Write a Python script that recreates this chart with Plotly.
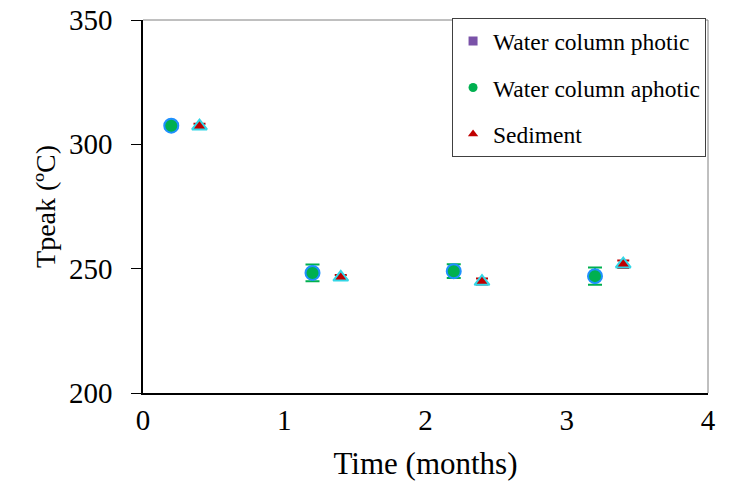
import plotly.graph_objects as go

# Sampling times (months) and Tpeak values (°C)
aphotic_time = [0.2, 1.2, 2.2, 3.2]
aphotic_tpeak = [307.5, 248.3, 249.0, 247.0]
aphotic_err = [1.0, 3.4, 2.8, 3.5]

sediment_time = [0.4, 1.4, 2.4, 3.4]
sediment_tpeak = [307.3, 246.5, 244.8, 251.8]
sediment_err = [1.0, 1.0, 1.2, 1.5]

legend_names = ["Water column photic", "Water column aphotic", "Sediment"]
legend_colors = ["#7a52a8", "#00b050", "#c00000"]
legend_symbols = ["square", "circle", "triangle-up"]

FONT = "Liberation Serif"

fig = go.Figure()

fig.add_trace(go.Scatter(
    x=aphotic_time, y=aphotic_tpeak, mode="markers", showlegend=False,
    marker=dict(symbol="circle", size=14, color="#00b050",
                line=dict(color="#1e90ff", width=2)),
    error_y=dict(type="data", array=aphotic_err, color="#00b050",
                 thickness=2, width=7),
))

fig.add_trace(go.Scatter(
    x=sediment_time, y=sediment_tpeak, mode="markers", showlegend=False,
    marker=dict(symbol="triangle-up", size=13, color="#c00000",
                line=dict(color="#33d6e6", width=2)),
    error_y=dict(type="data", array=sediment_err, color="#c00000",
                 thickness=2, width=6),
))

# Legend entries
for name, color, sym in zip(legend_names, legend_colors, legend_symbols):
    fig.add_trace(go.Scatter(
        x=[None], y=[None], mode="markers", name=name, legendgroup=name,
        marker=dict(symbol=sym, size=9, color=color),
    ))

fig.update_layout(
    width=734, height=491,
    margin=dict(l=143, r=26, t=20, b=98, autoexpand=False),
    paper_bgcolor="white", plot_bgcolor="white",
    font=dict(family=FONT, color="black"),
    legend=dict(
        x=0.547, y=1.005, xanchor="left", yanchor="top",
        bordercolor="#404040", borderwidth=1,
        font=dict(family=FONT, size=23.5, color="black"),
        tracegroupgap=13, itemwidth=30,
    ),
    xaxis=dict(
        range=[0, 4], dtick=1, ticks="", showgrid=False, zeroline=False,
        showline=True, linecolor="black", linewidth=1.5,
        tickfont=dict(size=29), title=dict(text="Time (months)",
                                          font=dict(size=31), standoff=18),
    ),
    yaxis=dict(
        range=[200, 350], dtick=50, ticks="outside", ticklen=10,
        tickcolor="black", showgrid=False, zeroline=False,
        showline=True, linecolor="black", linewidth=1.5,
        tickfont=dict(size=29), ticklabelstandoff=13,
        title=dict(text="Tpeak (ºC)", font=dict(size=28), standoff=5),
    ),
    shapes=[
        dict(type="line", xref="paper", yref="paper", x0=0, x1=1, y0=1, y1=1,
             line=dict(color="#808080", width=1)),
        dict(type="line", xref="paper", yref="paper", x0=1, x1=1, y0=0, y1=1,
             line=dict(color="#808080", width=1)),
    ],
)

fig.write_html("out.html")
